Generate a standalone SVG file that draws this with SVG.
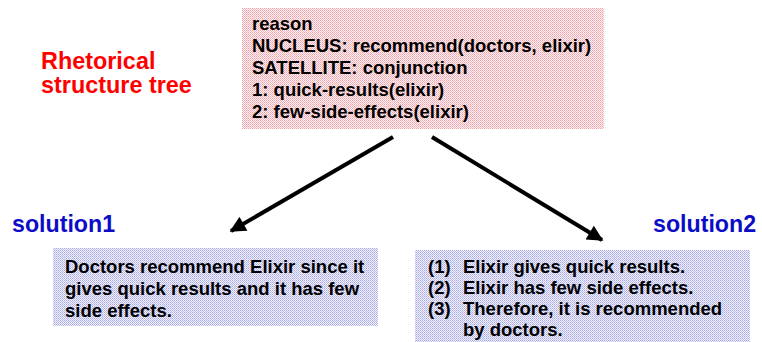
<svg xmlns="http://www.w3.org/2000/svg" width="762" height="342" viewBox="0 0 762 342">
<defs>
<pattern id="pinkDither" width="2" height="2" patternUnits="userSpaceOnUse">
<rect width="2" height="2" fill="#fff4f5"/>
<rect x="0" y="0" width="1" height="1" fill="#f3a0a9"/>
<rect x="1" y="1" width="1" height="1" fill="#f6b8be"/>
</pattern>
<pattern id="blueDither" width="2" height="2" patternUnits="userSpaceOnUse">
<rect width="2" height="2" fill="#f2f2fd"/>
<rect x="0" y="0" width="1" height="1" fill="#a8a8e6"/>
<rect x="1" y="1" width="1" height="1" fill="#c0c0ee"/>
</pattern>
<marker id="arrowHead" viewBox="0 0 10 10" refX="9" refY="5" markerWidth="4.5" markerHeight="4" orient="auto" markerUnits="strokeWidth">
<path d="M0,0 L10,5 L0,10 z" fill="#000"/>
</marker>
<style>
.t { font-family: "Liberation Sans", Arial, sans-serif; font-weight: bold; font-size: 18.5px; fill: #000; }
.title { font-family: "Liberation Sans", Arial, sans-serif; font-weight: bold; font-size: 23.4px; fill: #ff0000; }
.sol { font-family: "Liberation Sans", Arial, sans-serif; font-weight: bold; font-size: 23.2px; fill: #0c0cc8; }
.conn { stroke: #000; stroke-width: 4; fill: none; marker-end: url(#arrowHead); }
</style>
</defs>
<rect width="762" height="342" fill="#fff"/>
<g id="label-rst">
<text class="title" x="41" y="69">Rhetorical</text>
<text class="title" x="41" y="93">structure tree</text>
</g>
<g id="node-rst">
<rect x="242" y="8" width="362" height="121" fill="url(#pinkDither)"/>
<text class="t" x="252" y="30">reason</text>
<text class="t" x="252" y="52">NUCLEUS: recommend(doctors, elixir)</text>
<text class="t" x="252" y="74">SATELLITE: conjunction</text>
<text class="t" x="252" y="96">1: quick-results(elixir)</text>
<text class="t" x="252" y="118">2: few-side-effects(elixir)</text>
</g>
<g id="label-solution1">
<text class="sol" x="12" y="232">solution1</text>
</g>
<g id="label-solution2">
<text class="sol" x="653" y="232">solution2</text>
</g>
<g id="node-solution1">
<rect x="53" y="248" width="325" height="78" fill="url(#blueDither)"/>
<text class="t" x="65" y="273">Doctors recommend Elixir since it</text>
<text class="t" x="65" y="295">gives quick results and it has few</text>
<text class="t" x="65" y="317">side effects.</text>
</g>
<g id="node-solution2">
<rect x="415" y="250" width="335" height="92" fill="url(#blueDither)"/>
<text class="t" x="428" y="273">(1)</text>
<text class="t" x="463" y="273">Elixir gives quick results.</text>
<text class="t" x="428" y="294">(2)</text>
<text class="t" x="463" y="294">Elixir has few side effects.</text>
<text class="t" x="428" y="315">(3)</text>
<text class="t" x="463" y="315">Therefore, it is recommended</text>
<text class="t" x="463" y="336">by doctors.</text>
</g>
<g id="connectors">
<line class="conn" x1="393" y1="137" x2="231" y2="231"/>
<line class="conn" x1="432" y1="137" x2="602" y2="240"/>
</g>
</svg>
